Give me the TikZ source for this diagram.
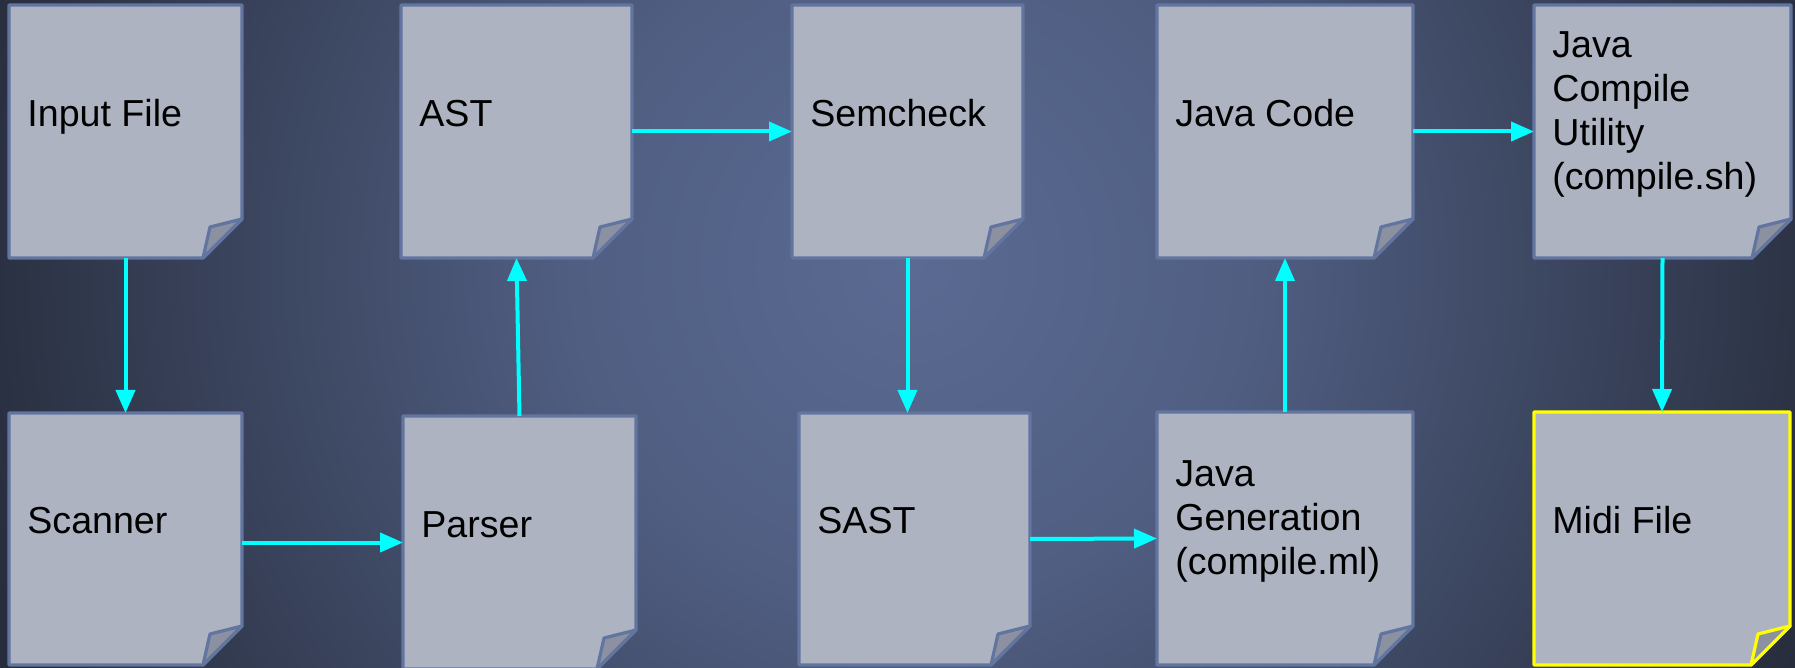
\documentclass[tikz,border=0pt]{standalone}
\usepackage{fontspec}
\setmainfont{Liberation Sans}
\usetikzlibrary{arrows.meta}

% palette
\definecolor{bgA}{RGB}{90,106,146}
\definecolor{bgB}{RGB}{80,94,130}
\definecolor{bgC}{RGB}{58,68,93}
\definecolor{bgD}{RGB}{40,46,62}
\definecolor{bgE}{RGB}{28,32,43}
\definecolor{bgF}{RGB}{21,24,31}
\definecolor{bgG}{RGB}{16,18,24}
\definecolor{docfill}{RGB}{173,179,192}
\definecolor{foldfill}{RGB}{139,145,160}
\definecolor{docline}{RGB}{98,117,160}
\definecolor{flowcyan}{RGB}{0,255,255}
\definecolor{hlyellow}{RGB}{255,255,0}

% soft glow behind the pipeline
\pgfdeclareradialshading{bgglow}{\pgfpoint{0bp}{0bp}}{%
  color(0bp)=(bgA); color(6bp)=(bgB); color(12bp)=(bgC);
  color(17bp)=(bgD); color(22bp)=(bgE); color(28bp)=(bgF);
  color(50bp)=(bgG)}

% a dog-eared page: #1 extra style for the outline, #2 name,
% #3,#4 top-left corner, #5,#6 bottom-right corner, #7 label
\newcommand\docpage[7][]{%
  \node[docbox, minimum width={(#5-#3)*0.5pt}, minimum height={(#6-#4)*0.5pt}]
    (#2) at ({(#3+#5)/2},{(#4+#6)/2}) {};
  \path[docedge,#1] (#2.north west) -- (#2.north east)
    -- ([yshift=19.5pt]#2.south east) -- ([xshift=-19.5pt]#2.south east)
    -- (#2.south west) -- cycle;
  \path[foldedge,#1] ([yshift=19.5pt]#2.south east)
    -- ([xshift=-16pt,yshift=15.5pt]#2.south east)
    -- ([xshift=-19.5pt]#2.south east) -- cycle;
  \node[doctext] (#2-label) at ([xshift=9pt,yshift=7pt]#2.west) {#7};
}

\begin{document}
\begin{tikzpicture}[x=0.5pt, y=-0.5pt,
  docbox/.style={rectangle, inner sep=0pt, outer sep=0pt},
  docedge/.style={draw=docline, fill=docfill, line width=1.6pt, line join=round},
  foldedge/.style={draw=docline, fill=foldfill, line width=1.6pt, line join=round},
  doctext/.style={anchor=west, align=left, inner sep=0pt, text=black,
    font=\fontsize{18.8pt}{22pt}\selectfont,
    execute at begin node=\strut, execute at end node=\strut},
  flow/.style={draw=flowcyan, line width=2pt,
    -{Triangle[length=11.5pt,width=9.5pt]}}]

\useasboundingbox (0,0) rectangle (1795,668);

% background
\begin{scope}
  \clip (0,0) rectangle (1795,668);
  \path[shading=bgglow] (-490,-1135) rectangle (2310,1665);
\end{scope}

% top row
\docpage{input}{9}{5}{242}{258}{Input File}
\docpage{ast}{401}{5}{632}{258}{AST}
\docpage{semcheck}{792}{5}{1023}{258}{Semcheck}
\docpage{javacode}{1157}{5}{1413}{258}{Java Code}
\docpage{compile}{1534}{5}{1791}{258}{Java\\Compile\\Utility\\(compile.sh)}

% bottom row
\docpage{scanner}{9}{413}{242}{665}{Scanner}
\docpage{parser}{403}{416}{636}{669}{Parser}
\docpage{sast}{799}{413}{1030}{665}{SAST}
\docpage{javagen}{1157}{412}{1413}{665}{Java\\Generation\\(compile.ml)}
\docpage[draw=hlyellow]{midi}{1534}{412}{1790}{665}{Midi File}

% data flow
\draw[flow] (input.south) -- (scanner.north);
\draw[flow] (scanner.east |- parser.west) -- (parser.west);
\draw[flow] (parser.north) -- (ast.south);
\draw[flow] (ast.east) -- (semcheck.west);
\draw[flow] (semcheck.south) -- (semcheck.south |- sast.north);
\draw[flow] (sast.east) -- (javagen.west);
\draw[flow] (javagen.north) -- (javacode.south);
\draw[flow] (javacode.east) -- (compile.west);
\draw[flow] (compile.south) -- (midi.north);
\end{tikzpicture}
\end{document}
